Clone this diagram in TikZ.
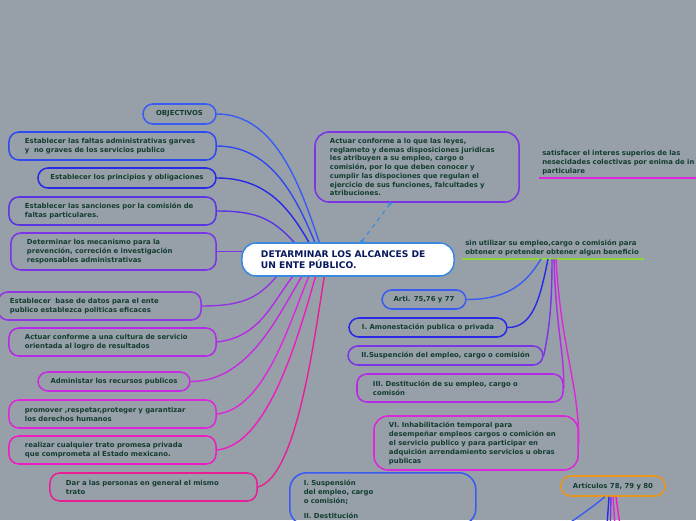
\documentclass[tikz,border=0pt]{standalone}
\usepackage{fontspec}
\setmainfont{DejaVu Sans}
\usetikzlibrary{positioning,calc}
\definecolor{MapBg}{HTML}{97A0A8}
\definecolor{MapText}{HTML}{133D30}
\definecolor{CenterBlue}{HTML}{3A8AE0}
\definecolor{MapBlue}{HTML}{3A5CF2}
\definecolor{MapBlueB}{HTML}{2F4AEE}
\definecolor{MapIndigo}{HTML}{2A2AE6}
\definecolor{MapViolet}{HTML}{5B34E4}
\definecolor{MapPurple}{HTML}{7B34E6}
\definecolor{MapPurpleB}{HTML}{9036E2}
\definecolor{MapOrchid}{HTML}{B52AE8}
\definecolor{MapOrchidB}{HTML}{C52CE0}
\definecolor{MapMagenta}{HTML}{DC28D8}
\definecolor{MapMagentaB}{HTML}{EE1CC0}
\definecolor{MapPink}{HTML}{E81E96}
\definecolor{MapOrange}{HTML}{E8961E}
\definecolor{MapGreen}{HTML}{8CD63C}
\newcommand{\mapfont}{\fontsize{4.9}{6.4}\selectfont\bfseries}
\newcommand{\titlefont}{\fontsize{6.5}{7.8}\selectfont\bfseries}
\pgfdeclarelayer{background}
\pgfsetlayers{background,main}

\begin{document}
\begin{tikzpicture}[
    x=0.025cm, y=-0.025cm,
    idea/.style={draw=#1, rounded corners=7pt, line width=1.1pt, text=MapText, font=\mapfont, align=left, inner xsep=0.4cm, inner ysep=0pt},
    pill/.style={idea=#1, inner xsep=0.2cm},
    floater/.style={text=MapText, font=\mapfont, align=left, inner xsep=0.075cm, inner ysep=0.06cm, anchor=south west},
    link/.style={draw=#1, line width=1pt},
    topicline/.style={draw=#1, line width=1.1pt}
]

  % Fundo
  \useasboundingbox (0,0) rectangle (696,520);
  \begin{pgfonlayer}{background}
    \fill[MapBg] (0,0) rectangle (696,520);
  \end{pgfonlayer}
  \clip (0,0) rectangle (696,520);

  % =========================================================================
  % TEMA CENTRAL
  % =========================================================================
  \node[draw=CenterBlue, fill=white, rounded corners=10pt, line width=1.1pt, text=MapText!60!blue!70!black, font=\titlefont, align=left,
        text width=4.35cm, inner xsep=0.475cm, minimum height=0.825cm] (c_tema) at (348,259.5)
    {DETARMINAR LOS ALCANCES DE\\UN ENTE PÚBLICO.};

  % =========================================================================
  % RAMAS IZQUIERDAS
  % =========================================================================
  \node[pill=MapBlue, minimum width=1.825cm, minimum height=0.5cm] (o_obj) at (179.5,114) {OBJECTIVOS};
  \node[idea=MapBlueB, text width=4.375cm, minimum height=0.7cm] (o_faltas) at (112.5,146)
    {Establecer las faltas administrativas garves\\y\ \ no graves de los servicios publico};
  \node[pill=MapIndigo, minimum width=4.45cm, minimum height=0.5cm] (o_princ) at (127,178) {Establecer los principios y obligaciones};
  \node[idea=MapViolet, text width=4.375cm, minimum height=0.7cm] (o_sanc) at (112.5,211)
    {Establecer las sanciones por la comisión de\\faltas particulares.};
  \node[idea=MapPurple, text width=4.325cm, minimum height=0.925cm] (o_mecan) at (113.5,251.5)
    {Determinar los mecanismo para la\\prevención, correción e investigación\\responsables administrativas};
  \node[idea=MapPurpleB, text width=4.475cm, inner xsep=0.3cm, minimum height=0.7cm] (o_datos) at (99.5,306)
    {Establecer\ \ base de datos para el ente\\publico establezca politicas eficaces};
  \node[idea=MapOrchid, text width=4.375cm, minimum height=0.7cm] (o_cultura) at (112.5,342)
    {Actuar conforme a una cultura de servicio\\orientada al logro de resultados};
  \node[pill=MapOrchidB, minimum width=3.8cm, minimum height=0.475cm] (o_recur) at (114,381.5) {Administar los recursos publicos};
  \node[idea=MapMagenta, text width=4.375cm, minimum height=0.7cm] (o_dh) at (112.5,414)
    {promover ,respetar,proteger y garantizar\\los derechos humanos};
  \node[idea=MapMagentaB, text width=4.375cm, minimum height=0.7cm] (o_trato) at (112.5,450)
    {realizar cualquier trato promesa privada\\que comprometa al Estado mexicano.};
  \node[idea=MapPink, text width=4.375cm, minimum height=0.7cm] (o_igual) at (153.5,487)
    {Dar a las personas en general el mismo\\trato};

  % =========================================================================
  % RAMAS DERECHAS
  % =========================================================================
  \node[idea=MapPurple, rounded corners=10pt, font=\fontsize{4.9}{6.2}\selectfont\bfseries, text width=4.35cm, inner xsep=0.375cm, minimum height=1.75cm] (o_leyes) at (417,167)
    {Actuar conforme a lo que las leyes,\\reglameto y demas disposiciones juridicas\\les atribuyen a su empleo, cargo o\\comisión, por lo que deben conocer y\\cumplir las dispociones que regulan el\\ejercicio de sus funciones, falcultades y\\atribuciones.};

  \node[floater, text width=4.4cm] (f_sat) at (539,178)
    {satisfacer el interes superios de las\\nesecidades colectivas por enima de in\\particulare};
  \node[floater, text width=4.375cm] (f_sin) at (462,259)
    {sin utilizar su empleo,cargo o comisión para\\obtener o pretender obtener algun beneficio};

  \node[pill=MapBlue, minimum width=2.1cm, minimum height=0.475cm] (s_arti) at (424,299.5) {Arti. 75,76 y 77};
  \node[pill=MapIndigo, minimum width=3.95cm, minimum height=0.475cm] (s_amon) at (428,327.5) {I. Amonestación publica o privada};
  \node[pill=MapPurple, minimum width=4.875cm, minimum height=0.475cm] (s_susp) at (445.5,355.5) {II.Suspención del empleo, cargo o comisión};
  \node[idea=MapOrchid, text width=4.35cm, minimum height=0.7cm] (s_dest) at (460,388)
    {III. Destitución de su empleo, cargo o\\comisón};
  \node[idea=MapMagenta, rounded corners=10pt, text width=4.35cm, inner xsep=0.375cm, minimum height=1.35cm] (s_inhab) at (476,443)
    {VI. Inhabilitación temporal para\\desempeñar empleos cargos o comición en\\el servicio publico y para participar en\\adquición arrendamiento servicios u obras\\publicas};

  \node[idea=MapBlue, rounded corners=12pt, anchor=north west, text width=3.95cm, inner xsep=0.35cm, inner ysep=0.18cm] (s_grave) at (289,472)
    {I. Suspensión\\del empleo, cargo\\o comisión;\\[4pt]II. Destitución\\ };
  \node[pill=MapOrange, minimum width=2.6cm, minimum height=0.5cm] (s_art78) at (613,486) {Artículos 78, 79 y 80};

  \coordinate (k_a) at (545,540);
  \coordinate (k_b) at (606,540);
  \coordinate (k_c) at (610,540);
  \coordinate (k_d) at (616,540);
  \coordinate (k_e) at (622,540);

  % =========================================================================
  % CONECTORES
  % =========================================================================
  \begin{pgfonlayer}{background}
    \draw[link=MapBlue] (o_obj.east) .. controls +(60,0) and +(-20,-60) .. ($(c_tema.north west)+(80,6)$);
    \draw[link=MapBlueB] (o_faltas.east) .. controls +(55,0) and +(-20,-50) .. ($(c_tema.north west)+(76,6)$);
    \draw[link=MapIndigo] (o_princ.east) .. controls +(50,0) and +(-22,-40) .. ($(c_tema.north west)+(71,6)$);
    \draw[link=MapViolet] (o_sanc.east) .. controls +(40,0) and +(-25,-30) .. ($(c_tema.north west)+(58,6)$);
    \draw[link=MapPurple] (o_mecan.east) -- ($(c_tema.west)+(8,-8)$);
    \draw[link=MapPurpleB] (o_datos.east) .. controls +(45,0) and +(-20,25) .. ($(c_tema.south west)+(40,-6)$);
    \draw[link=MapOrchid] (o_cultura.east) .. controls +(45,-5) and +(-25,30) .. ($(c_tema.south west)+(56,-6)$);
    \draw[link=MapOrchidB] (o_recur.east) .. controls +(60,0) and +(-25,40) .. ($(c_tema.south west)+(64,-6)$);
    \draw[link=MapMagenta] (o_dh.east) .. controls +(50,-5) and +(-20,45) .. ($(c_tema.south west)+(70,-6)$);
    \draw[link=MapMagentaB] (o_trato.east) .. controls +(55,-5) and +(-15,50) .. ($(c_tema.south west)+(76,-6)$);
    \draw[link=MapPink] (o_igual.east) .. controls +(40,-10) and +(-10,60) .. ($(c_tema.south west)+(84,-6)$);
  \end{pgfonlayer}

  % ligacao tracejada
  \coordinate (d_a) at ($(c_tema.north)+(14,-1)$);
  \coordinate (d_b) at ($(o_leyes.south)+(-27,1)$);
  \draw[CenterBlue, dashed, line width=0.8pt] (d_a) -- (d_b);
  \fill[CenterBlue] (d_a) circle (1.3pt) (d_b) circle (1.3pt);

  % linhas de topico
  \draw[topicline=MapMagenta] (f_sat.south west) -- (f_sat.south east);
  \draw[topicline=MapGreen] (f_sin.south west) -- (f_sin.south east);

  \draw[link=MapBlue] ($(f_sin.south west)+(79,0)$) .. controls +(-15,25) and +(40,0) .. (s_arti.east);
  \draw[link=MapIndigo] ($(f_sin.south west)+(86,0)$) .. controls +(-8,40) and +(25,0) .. (s_amon.east);
  \draw[link=MapPurple] ($(f_sin.south west)+(90,0)$) .. controls +(0,50) and +(5,-25) .. (s_susp.east);
  \draw[link=MapOrchid] ($(f_sin.south west)+(92,0)$) .. controls +(2,70) and +(0,-40) .. (s_dest.east);
  \draw[link=MapMagenta] ($(f_sin.south west)+(94,0)$) .. controls +(5,90) and +(0,-60) .. (s_inhab.east);

  \draw[link=MapBlue] ($(s_art78.south)+(-8,0)$) .. controls +(-15,12) .. (k_a);
  \draw[link=MapIndigo] ($(s_art78.south)+(-4,0)$) -- (k_b);
  \draw[link=MapPurple] ($(s_art78.south)+(-2,0)$) -- (k_c);
  \draw[link=MapMagenta] (s_art78.south) -- (k_d);
  \draw[link=MapMagentaB] ($(s_art78.south)+(3,0)$) -- (k_e);

\end{tikzpicture}
\end{document}
